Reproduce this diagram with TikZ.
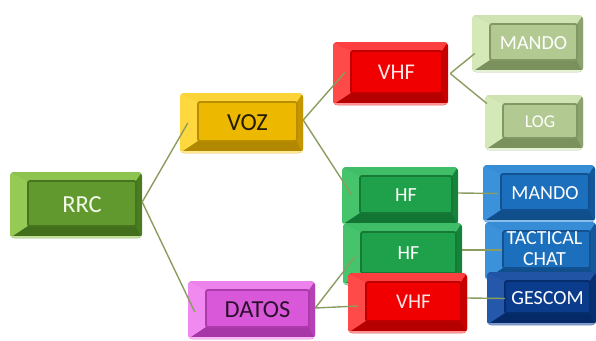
\documentclass[tikz,border=0pt]{standalone}
\usepackage{fontspec}
\setmainfont{Carlito}
\usetikzlibrary{calc}

% palettes: base / light / dark
\definecolor{grB}{HTML}{62992E}\definecolor{grL}{HTML}{95CA55}\definecolor{grD}{HTML}{3A6418}
\definecolor{yeB}{HTML}{EDB800}\definecolor{yeL}{HTML}{FFD840}\definecolor{yeD}{HTML}{A27C00}
\definecolor{reB}{HTML}{F00000}\definecolor{reL}{HTML}{FF4A4A}\definecolor{reD}{HTML}{A80000}
\definecolor{lgB}{HTML}{B2C992}\definecolor{lgL}{HTML}{D4E8B8}\definecolor{lgD}{HTML}{6C8250}
\definecolor{hfB}{HTML}{1FA04A}\definecolor{hfL}{HTML}{45C46C}\definecolor{hfD}{HTML}{0F6A2E}
\definecolor{blB}{HTML}{1C6FBC}\definecolor{blL}{HTML}{3C92DA}\definecolor{blD}{HTML}{0E4680}
\definecolor{dbB}{HTML}{0B3C8C}\definecolor{dbL}{HTML}{2558AA}\definecolor{dbD}{HTML}{04265E}
\definecolor{mgB}{HTML}{D957D9}\definecolor{mgL}{HTML}{F08AF0}\definecolor{mgD}{HTML}{9A2E9A}
\definecolor{linkC}{HTML}{8A9C5E}

\tikzset{
  keybox/.style n args={3}{%
    fill=#1, rounded corners=4pt, inner sep=0pt, align=center,
    path picture={
      \path (path picture bounding box.north west) coordinate (kNW)
            (path picture bounding box.south east) coordinate (kSE);
      \path (kNW) ++(18pt,-9pt) coordinate (iNW)
            (kSE) ++(-6pt,12pt) coordinate (iSE);
      \path (kNW |- kSE) coordinate (kSW) (kSE |- kNW) coordinate (kNE)
            (iNW |- iSE) coordinate (iSW) (iSE |- iNW) coordinate (iNE);
      \fill[sharp corners,#2!85!#1] (kNW) -- (kNE) -- (iNE) -- (iNW) -- cycle;
      \fill[sharp corners,#2] (kNW) -- (iNW) -- (iSW) -- (kSW) -- cycle;
      \fill[sharp corners,#3!80!#1] (kSW) -- (iSW) -- (iSE) -- (kSE) -- cycle;
      \fill[sharp corners,#3!55!#1] (kNE) -- (kSE) -- (iSE) -- (iNE) -- cycle;
      \fill[sharp corners,#2!60!white] ([yshift=2pt]kSW) rectangle (kSE);
      \draw[rounded corners=2pt,fill=#1,draw=#3!70!#1,line width=1.8pt]
            (iNW) rectangle (iSE);
    }},
  big/.style={font=\fontsize{24.5}{26}\selectfont},
  small/.style={font=\fontsize{20}{21}\selectfont},
  link/.style={draw=linkC, line width=1.4pt},
}
% shift text onto the key face
\newcommand{\kt}[1]{\hspace*{12pt}\raisebox{1.5pt}{#1}}

\begin{document}
\begin{tikzpicture}[x=1pt,y=-1pt]
\useasboundingbox (0,0) rectangle (596,340);

\node[keybox={grB}{grL}{grD}, big, text=white!88!grL, minimum width=132pt, minimum height=66pt] (rrc) at (76,205) {\kt{RRC}};
\node[keybox={yeB}{yeL}{yeD}, big, text=black!85!yeB, minimum width=123pt, minimum height=60pt] (voz) at (241.5,123) {\kt{VOZ}};
\node[keybox={mgB}{mgL}{mgD}, big, text=black!80!mgB, minimum width=127pt, minimum height=58pt] (datos) at (251.5,310) {\kt{DATOS}};

\node[keybox={reB}{reL}{reD}, font=\fontsize{22.5}{24}\selectfont, text=white!90!reB, minimum width=115pt, minimum height=63pt] (vhfa) at (390.5,73.5) {\kt{VHF}};
\node[keybox={hfB}{hfL}{hfD}, small, text=white, minimum width=116pt, minimum height=58pt] (hfa) at (400,196) {\kt{HF}};
\node[keybox={hfB}{hfL}{hfD}, small, text=white, minimum width=119pt, minimum height=62pt] (hfb) at (402.5,254) {\kt{HF}};
\node[keybox={reB}{reL}{reD}, font=\fontsize{21}{22}\selectfont, text=white!90!reB, minimum width=119pt, minimum height=60pt] (vhfb) at (407.5,303) {\kt{VHF}};

\node[keybox={lgB}{lgL}{lgD}, small, text=white, minimum width=111pt, minimum height=57pt] (mandoa) at (527.5,43.5) {\kt{MANDO}};
\node[keybox={lgB}{lgL}{lgD}, font=\fontsize{18}{20}\selectfont, text=white, minimum width=98pt, minimum height=55pt] (log) at (534,122.5) {\kt{LOG}};
\node[keybox={blB}{blL}{blD}, small, text=white, minimum width=112pt, minimum height=57pt] (mandob) at (539,193.5) {\kt{MANDO}};
\node[keybox={blB}{blL}{blD}, small, text=white, minimum width=111pt, minimum height=58pt] (tact) at (540.5,251) {\hspace*{8pt}\raisebox{5pt}{\begin{tabular}{@{}c@{}}TACTICAL\\CHAT\end{tabular}}};
\node[keybox={dbB}{dbL}{dbD}, small, text=white, minimum width=109pt, minimum height=53pt] (gescom) at (541.5,298.5) {\kt{GESCOM}};

% connectors
\draw[link] ([yshift=3pt]rrc.east) -- ([xshift=8pt]voz.west);
\draw[link] ([yshift=3pt]rrc.east) -- ([xshift=7pt,yshift=-2pt]datos.west);
\draw[link] ([yshift=3pt]voz.east) -- ([xshift=12pt,yshift=1pt]vhfa.west);
\draw[link] ([yshift=3pt]voz.east) -- ([xshift=10pt,yshift=1pt]hfa.west);
\draw[link] ([xshift=2pt]vhfa.east) -- ([xshift=3pt,yshift=-10pt]mandoa.west);
\draw[link] ([xshift=2pt]vhfa.east) -- ([xshift=2pt,yshift=19pt]log.west);
\draw[link] ([yshift=3pt]hfa.east) -- ([xshift=15pt,yshift=0pt]mandob.west);
\draw[link] ([yshift=4pt]hfb.east) -- ([xshift=17pt,yshift=1pt]tact.west);
\draw[link] ([yshift=5pt]vhfb.east) -- ([xshift=18pt,yshift=0pt]gescom.west);
\draw[link] ([yshift=2pt]datos.east) -- ([xshift=12pt,yshift=-3pt]hfb.west);
\draw[link] ([yshift=2pt]datos.east) -- ([xshift=10pt,yshift=-3pt]vhfb.west);
\end{tikzpicture}
\end{document}
